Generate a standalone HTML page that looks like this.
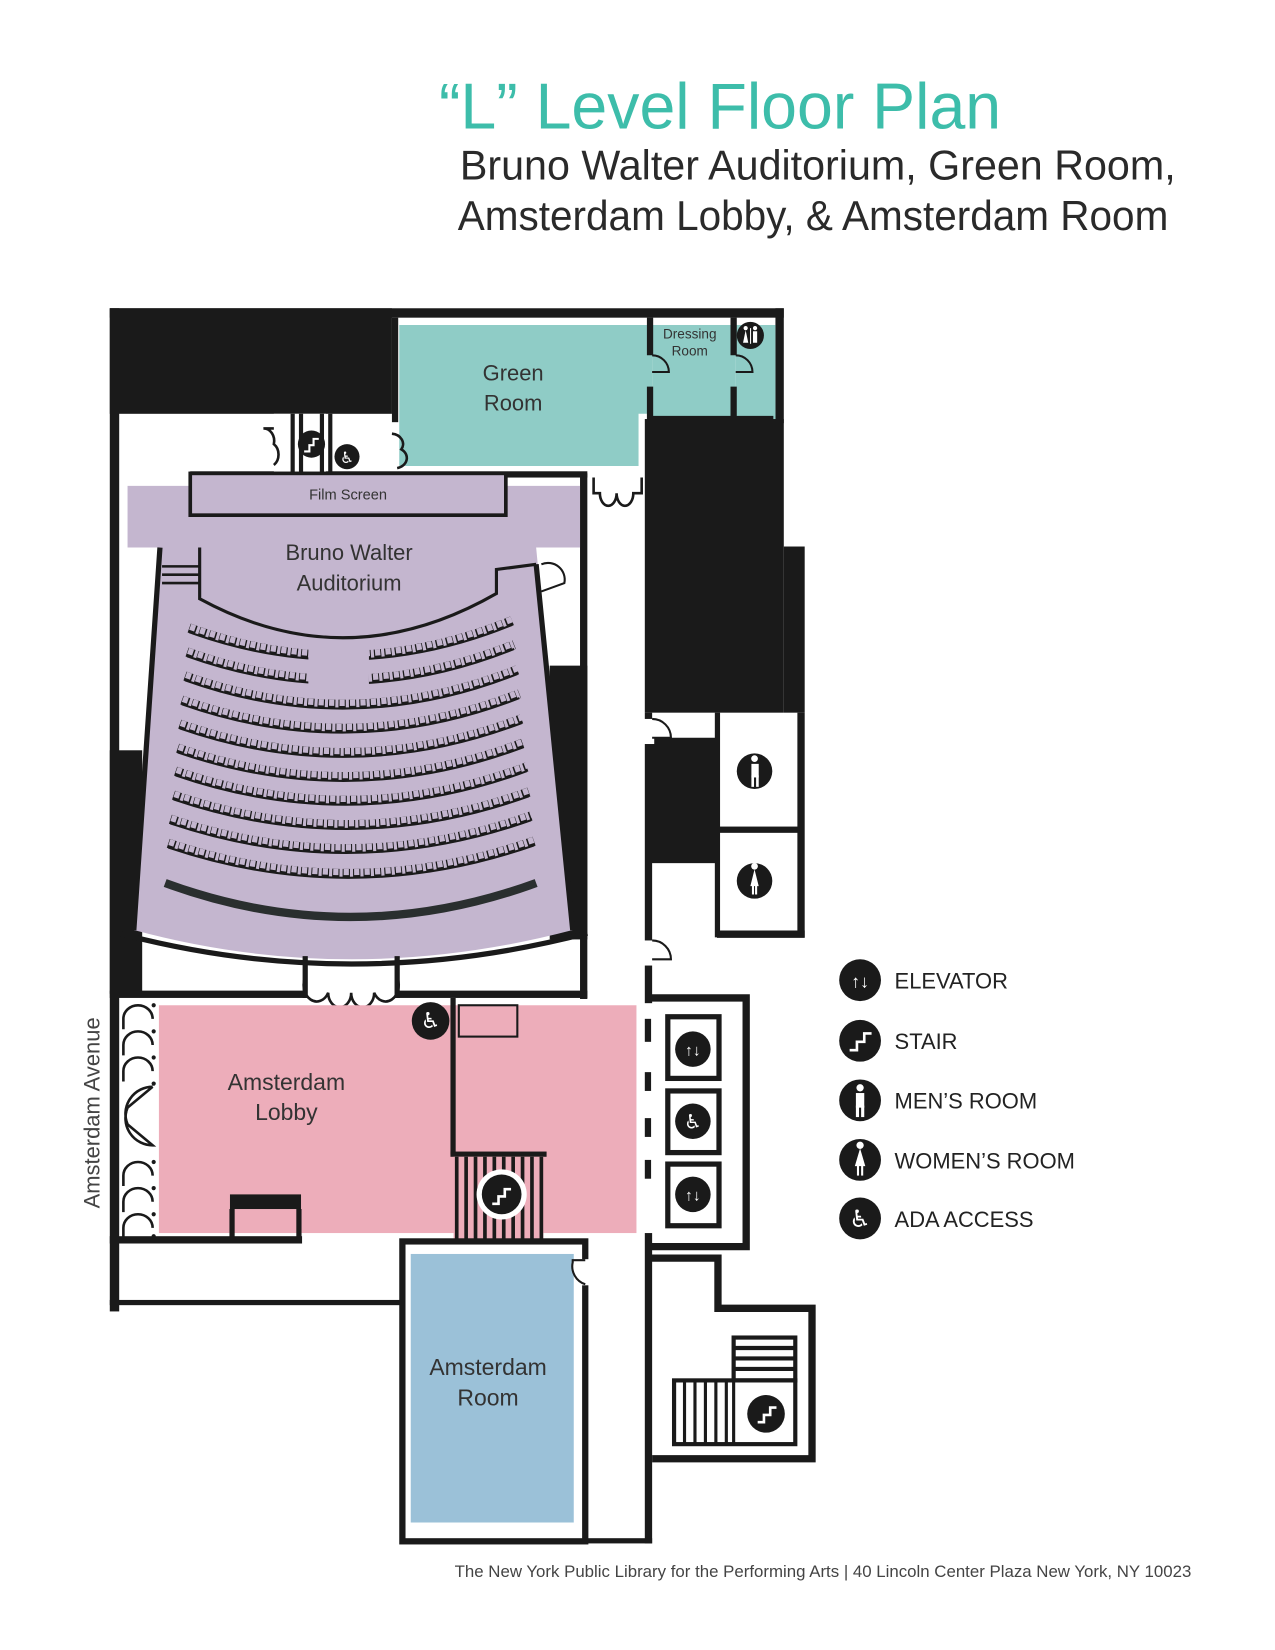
<!DOCTYPE html>
<html><head><meta charset="utf-8"><style>
html,body{margin:0;padding:0;background:#fff;}
svg{display:block;}
text{font-family:"Liberation Sans","DejaVu Sans",sans-serif;}
</style></head><body>
<svg width="1275" height="1650" viewBox="0 0 1220 1579" xmlns="http://www.w3.org/2000/svg">
<!-- Title -->
<text x="420" y="123" font-size="62" fill="#3dbdaa" textLength="538" lengthAdjust="spacingAndGlyphs">“L” Level Floor Plan</text>
<text x="440" y="172" font-size="40" fill="#2a2a2a" textLength="685" lengthAdjust="spacingAndGlyphs">Bruno Walter Auditorium, Green Room,</text>
<text x="438" y="220" font-size="40" fill="#2a2a2a" textLength="680" lengthAdjust="spacingAndGlyphs">Amsterdam Lobby, &amp; Amsterdam Room</text>

<!-- top-left black mass & outer walls -->
<rect x="105" y="295" width="645" height="9" fill="#1a1a1a"/>
<rect x="105" y="295" width="270" height="101" fill="#1a1a1a"/>
<rect x="105" y="295" width="9" height="960" fill="#1a1a1a"/>
<rect x="105" y="718" width="31" height="233" fill="#1a1a1a"/>
<rect x="742" y="295" width="8" height="110" fill="#1a1a1a"/>

<!-- Green room -->
<rect x="375" y="304" width="6" height="100" fill="#1a1a1a"/>
<path d="M382,311 H624 V396 H611 V446 H382 Z" fill="#8fccc6"/>
<rect x="624" y="311" width="80" height="90" fill="#8fccc6"/>
<rect x="704" y="311" width="38" height="90" fill="#8fccc6"/>
<path d="M622,304 V340 M622,370 V401 H740 M702,304 V340 M702,370 V401" stroke="#1a1a1a" stroke-width="6" fill="none"/>
<path d="M624,340 A16,16 0 0 1 640,356 H624 M704,340 A16,16 0 0 1 720,356 H704" stroke="#1a1a1a" stroke-width="2" fill="none"/>
<text x="660" y="324" font-size="13" text-anchor="middle" fill="#333">Dressing</text>
<text x="660" y="340" font-size="13" text-anchor="middle" fill="#333">Room</text>
<circle cx="718" cy="321" r="13" fill="#1a1a1a"/>
<circle cx="713.5" cy="314" r="2" fill="#fff"/><path d="M711,328 L713.5,316 L716,328 Z" fill="#fff"/>
<rect x="717.7" y="314" width="1" height="15" fill="#fff"/>
<circle cx="722.5" cy="314" r="2" fill="#fff"/><rect x="720.5" y="317" width="4" height="11" fill="#fff"/>
<text x="491" y="364" font-size="21" text-anchor="middle" fill="#333">Green</text>
<text x="491" y="393" font-size="21" text-anchor="middle" fill="#333">Room</text>

<!-- right black block -->
<rect x="617" y="401" width="133" height="281" fill="#1a1a1a"/>
<rect x="750" y="523" width="20" height="159" fill="#1a1a1a"/>
<rect x="763" y="682" width="7" height="215" fill="#1a1a1a"/>
<rect x="620" y="706" width="67" height="120" fill="#1a1a1a"/>
<rect x="684" y="682" width="5" height="215" fill="#1a1a1a"/>
<rect x="687" y="791" width="78" height="6" fill="#1a1a1a"/>
<path d="M686,894 H770" stroke="#1a1a1a" stroke-width="7"/>
<circle cx="722" cy="738" r="17" fill="#1a1a1a"/>
<rect x="719" y="731" width="7" height="13" fill="#fff"/><rect x="719" y="742" width="2.5" height="11" fill="#fff"/><rect x="723.5" y="742" width="2.5" height="11" fill="#fff"/><circle cx="722" cy="726" r="3.2" fill="#fff"/>
<circle cx="722" cy="843" r="17" fill="#1a1a1a"/>
<path d="M718,848 L722,832 L726,848 Z" fill="#fff"/><rect x="719.5" y="847" width="2" height="9" fill="#fff"/><rect x="722.5" y="847" width="2" height="9" fill="#fff"/><circle cx="722" cy="829" r="3.2" fill="#fff"/>

<!-- right corridor wall -->
<rect x="617" y="682" width="7" height="795" fill="#1a1a1a"/>
<rect x="612" y="688" width="14" height="24" fill="#fff"/>
<rect x="612" y="900" width="14" height="24" fill="#fff"/>
<path d="M624,688 A18,18 0 0 1 642,706 H624 M624,900 A18,18 0 0 1 642,918 H624" stroke="#1a1a1a" stroke-width="2" fill="none"/>
<rect x="612" y="960" width="14" height="220" fill="#fff"/>
<rect x="617" y="975" width="6" height="22" fill="#1a1a1a"/>
<rect x="617" y="1026" width="6" height="18" fill="#1a1a1a"/>
<rect x="617" y="1070" width="6" height="18" fill="#1a1a1a"/>
<rect x="617" y="1110" width="6" height="18" fill="#1a1a1a"/>

<!-- elevators -->
<path d="M620,955 H714 V1193 H620" stroke="#1a1a1a" stroke-width="7" fill="none"/>
<rect x="639" y="973" width="49" height="59" fill="none" stroke="#1a1a1a" stroke-width="5"/>
<rect x="639" y="1044" width="49" height="59" fill="none" stroke="#1a1a1a" stroke-width="5"/>
<rect x="639" y="1114" width="49" height="59" fill="none" stroke="#1a1a1a" stroke-width="5"/>
<circle cx="663" cy="1004" r="17" fill="#1a1a1a"/><text x="663" y="1010" font-size="15" text-anchor="middle" fill="#fff">↑↓</text>
<circle cx="663" cy="1073" r="17" fill="#1a1a1a"/><text x="663" y="1080" font-size="19" text-anchor="middle" fill="#fff">♿</text>
<circle cx="663" cy="1143" r="17" fill="#1a1a1a"/><text x="663" y="1149" font-size="15" text-anchor="middle" fill="#fff">↑↓</text>

<!-- lower right stair -->
<path d="M620,1204 H687 V1252 H777 V1396 H624" stroke="#1a1a1a" stroke-width="7" fill="none"/>
<rect x="702" y="1280" width="59" height="41" fill="#fff" stroke="#1a1a1a" stroke-width="4"/>
<path d="M702,1290 H761 M702,1300 H761 M702,1310 H761" stroke="#1a1a1a" stroke-width="4"/>
<rect x="645" y="1321" width="116" height="61" fill="#fff" stroke="#1a1a1a" stroke-width="4"/>
<path d="M655,1321 V1382 M665,1321 V1382 M675,1321 V1382 M685,1321 V1382 M695,1321 V1382 M702,1321 V1382" stroke="#1a1a1a" stroke-width="3"/>
<circle cx="733" cy="1353" r="18" fill="#1a1a1a"/>
<path d="M725,1361 H731 V1354 H737 V1347 H743" stroke="#fff" stroke-width="2.5" fill="none"/>

<!-- auditorium walls -->
<rect x="555" y="453" width="7" height="503" fill="#1a1a1a"/>
<rect x="526" y="637" width="36" height="262" fill="#1a1a1a"/>
<rect x="182" y="451" width="380" height="6" fill="#1a1a1a"/>
<rect x="262" y="396" width="50" height="57" fill="#fff"/>
<path d="M280,396 V453 M288,396 V453 M308,396 V453 M316,396 V453" stroke="#1a1a1a" stroke-width="4"/>
<path d="M252,410 H262 M252,410 A10,12 0 0 1 262,425 A10,12 0 0 1 262,445" stroke="#1a1a1a" stroke-width="2.5" fill="none"/>
<path d="M375,415 A12,10 0 0 1 384,430 A12,10 0 0 1 380,448" stroke="#1a1a1a" stroke-width="2.5" fill="none"/>
<circle cx="298" cy="425" r="13" fill="#1a1a1a"/>
<path d="M291,432 H296 V426 H300 V420 H305" stroke="#fff" stroke-width="2" fill="none"/>
<circle cx="332" cy="437" r="12" fill="#1a1a1a"/><text x="332" y="443" font-size="15" text-anchor="middle" fill="#fff">♿</text>
<path d="M568,457 V472 H574 A8,12 0 0 0 590,472 A8,12 0 0 0 606,472 H614 V457" stroke="#1a1a1a" stroke-width="2.5" fill="none"/>

<!-- auditorium purple -->
<path d="M122,465 H555 V524 H513 L548,890 Q335,946 128,890 L153,530 V524 H122 Z" fill="#c4b6cf"/>
<rect x="182" y="453" width="302" height="40" fill="#c4b6cf" stroke="#1a1a1a" stroke-width="3.5"/>
<text x="333" y="478" font-size="14" text-anchor="middle" fill="#333">Film Screen</text>
<path d="M153,524 L128,890 M513,540 L548,890" stroke="#1a1a1a" stroke-width="5" fill="none"/>
<path d="M113,893 Q335,952 562,893" stroke="#1a1a1a" stroke-width="5" fill="none"/>
<path d="M191,524 V573 Q332,650 475,568 V545 L513,540" stroke="#1a1a1a" stroke-width="3" fill="none"/>
<path d="M155,542 H192 M155,550 H192 M155,558 H192" stroke="#1a1a1a" stroke-width="2.5"/>
<path d="M518,540 A16,16 0 0 1 540,558 L518,566" stroke="#1a1a1a" stroke-width="2" fill="none"/>
<text x="334" y="536" font-size="21" text-anchor="middle" fill="#333">Bruno Walter</text>
<text x="334" y="565" font-size="21" text-anchor="middle" fill="#333">Auditorium</text>

<!-- seat rows -->
<g fill="none">
<g stroke="#1a1a1a" stroke-width="2">
<path d="M181,605 Q335.5,661 490,598"/><path d="M179,628 Q335.5,684 492,621"/><path d="M177,651 Q336,708 495,645"/><path d="M174,674 Q335.5,731 497,668"/><path d="M172,697 Q335.5,754 499,692"/><path d="M170,720 Q335.5,777 501,715"/><path d="M168,742 Q336,800 504,738"/><path d="M166,765 Q336,823 506,762"/><path d="M163,788 Q335.5,846 508,785"/><path d="M161,811 Q336,870 511,809"/>
</g>
<g stroke="#1a1a1a" stroke-width="9" stroke-dasharray="7 3">
<path d="M181,601 Q335.5,657 490,594"/><path d="M179,624 Q335.5,680 492,617"/><path d="M177,647 Q336,704 495,641"/><path d="M174,670 Q335.5,727 497,664"/><path d="M172,693 Q335.5,750 499,688"/><path d="M170,716 Q335.5,773 501,711"/><path d="M168,738 Q336,796 504,734"/><path d="M166,761 Q336,819 506,758"/><path d="M163,784 Q335.5,842 508,781"/><path d="M161,807 Q336,866 511,805"/>
</g>
<g stroke="#c4b6cf" stroke-width="6" stroke-dasharray="5 5" stroke-dashoffset="-1" transform="translate(0,-1.5)">
<path d="M181,601 Q335.5,657 490,594"/><path d="M179,624 Q335.5,680 492,617"/><path d="M177,647 Q336,704 495,641"/><path d="M174,670 Q335.5,727 497,664"/><path d="M172,693 Q335.5,750 499,688"/><path d="M170,716 Q335.5,773 501,711"/><path d="M168,738 Q336,796 504,734"/><path d="M166,761 Q336,819 506,758"/><path d="M163,784 Q335.5,842 508,781"/><path d="M161,807 Q336,866 511,805"/>
</g>
</g>
<rect x="295" y="618" width="58" height="46" fill="#c4b6cf"/>
<path d="M158,845 Q335,910 513,845" stroke="#2a2f2f" stroke-width="8" fill="none"/>

<!-- auditorium bottom wall & doors -->
<rect x="105" y="948" width="187" height="7" fill="#1a1a1a"/>
<rect x="380" y="948" width="182" height="7" fill="#1a1a1a"/>
<path d="M292,955 V935 A11,14 0 0 0 314,950 A11,14 0 0 0 336,950 A11,14 0 0 0 358,950 A11,14 0 0 0 380,935 V955" stroke="#1a1a1a" stroke-width="2.5" fill="none"/>
<path d="M292,955 V915 M380,955 V915" stroke="#1a1a1a" stroke-width="5"/>

<!-- lobby -->
<rect x="152" y="962" width="457" height="218" fill="#edadba"/>
<rect x="431" y="955" width="5" height="150" fill="#1a1a1a"/>
<rect x="439" y="962" width="56" height="30" fill="none" stroke="#1a1a1a" stroke-width="2"/>
<rect x="431" y="1102" width="92" height="5" fill="#1a1a1a"/>
<rect x="434" y="1107" width="86" height="80" fill="#edadba"/>
<path d="M437,1107 V1187 M446,1107 V1187 M455,1107 V1187 M464,1107 V1187 M473,1107 V1187 M482,1107 V1187 M491,1107 V1187 M500,1107 V1187 M509,1107 V1187 M518,1107 V1187" stroke="#1a1a1a" stroke-width="3.5"/>
<circle cx="480" cy="1143" r="24" fill="#fff"/>
<circle cx="480" cy="1143" r="19" fill="#1a1a1a"/>
<path d="M471,1152 H477 V1145 H483 V1138 H489" stroke="#fff" stroke-width="2.5" fill="none"/>
<circle cx="412" cy="977" r="18" fill="#1a1a1a"/><text x="412" y="984" font-size="21" text-anchor="middle" fill="#fff">♿</text>
<rect x="220" y="1143" width="68" height="14" fill="#1a1a1a"/>
<path d="M222,1157 V1188 M286,1157 V1188" stroke="#1a1a1a" stroke-width="5"/>
<text x="274" y="1043" font-size="22" text-anchor="middle" fill="#333">Amsterdam</text>
<text x="274" y="1072" font-size="22" text-anchor="middle" fill="#333">Lobby</text>
<!-- Amsterdam Ave doors -->
<g stroke="#1a1a1a" stroke-width="2.5" fill="none">
<path d="M118,985 V975 A14,13 0 0 1 146,975 M118,1010 V1000 A14,13 0 0 1 146,1000 M118,1035 V1025 A14,13 0 0 1 146,1025 M118,1135 V1125 A14,13 0 0 1 146,1125 M118,1160 V1150 A14,13 0 0 1 146,1150 M118,1185 V1175 A14,13 0 0 1 146,1175"/>
<path d="M146,1040 L122,1060 A26,26 0 0 0 146,1096 L122,1076 A26,26 0 0 1 146,1040"/>
</g>
<g fill="#1a1a1a"><circle cx="147" cy="962" r="2"/><circle cx="147" cy="987" r="2"/><circle cx="147" cy="1012" r="2"/><circle cx="147" cy="1037" r="2"/><circle cx="147" cy="1112" r="2"/><circle cx="147" cy="1137" r="2"/><circle cx="147" cy="1162" r="2"/><circle cx="147" cy="1183" r="2"/></g>
<text transform="translate(95,1065) rotate(-90)" font-size="21" text-anchor="middle" fill="#444">Amsterdam Avenue</text>
<rect x="105" y="1183" width="184" height="7" fill="#1a1a1a"/>
<rect x="105" y="1244" width="280" height="5" fill="#1a1a1a"/>

<!-- Amsterdam room -->
<rect x="385" y="1188" width="175" height="287" fill="#fff" stroke="#1a1a1a" stroke-width="6"/>
<rect x="393" y="1200" width="156" height="257" fill="#9bc1d8"/>
<rect x="555" y="1205" width="10" height="25" fill="#fff"/>
<path d="M560,1206 H548 V1208 A18,18 0 0 0 560,1229" stroke="#1a1a1a" stroke-width="2" fill="#fff"/>
<rect x="560" y="1472" width="64" height="5" fill="#1a1a1a"/>
<text x="467" y="1316" font-size="22" text-anchor="middle" fill="#333">Amsterdam</text>
<text x="467" y="1345" font-size="22" text-anchor="middle" fill="#333">Room</text>

<!-- legend -->
<g font-size="21" fill="#222">
<circle cx="823" cy="938" r="20" fill="#1a1a1a"/><text x="823" y="945" font-size="17" text-anchor="middle" fill="#fff">↑↓</text>
<text x="856" y="946">ELEVATOR</text>
<circle cx="823" cy="996" r="20" fill="#1a1a1a"/><path d="M813,1005 H820 V997 H827 V989 H834" stroke="#fff" stroke-width="2.5" fill="none"/>
<text x="856" y="1004">STAIR</text>
<circle cx="823" cy="1053" r="20" fill="#1a1a1a"/><rect x="819" y="1046" width="8" height="14" fill="#fff"/><rect x="819" y="1058" width="3" height="11" fill="#fff"/><rect x="824" y="1058" width="3" height="11" fill="#fff"/><circle cx="823" cy="1041" r="3.5" fill="#fff"/>
<text x="856" y="1061">MEN’S ROOM</text>
<circle cx="823" cy="1110" r="20" fill="#1a1a1a"/><path d="M818,1116 L823,1099 L828,1116 Z" fill="#fff"/><rect x="820" y="1115" width="2" height="10" fill="#fff"/><rect x="824" y="1115" width="2" height="10" fill="#fff"/><circle cx="823" cy="1096" r="3.5" fill="#fff"/>
<text x="856" y="1118">WOMEN’S ROOM</text>
<circle cx="823" cy="1166" r="20" fill="#1a1a1a"/><text x="823" y="1174" font-size="23" text-anchor="middle" fill="#fff">♿</text>
<text x="856" y="1174">ADA ACCESS</text>
</g>

<text x="435" y="1509" font-size="16" fill="#444" textLength="705" lengthAdjust="spacingAndGlyphs">The New York Public Library for the Performing Arts | 40 Lincoln Center Plaza New York, NY 10023</text>
</svg>
</body></html>
